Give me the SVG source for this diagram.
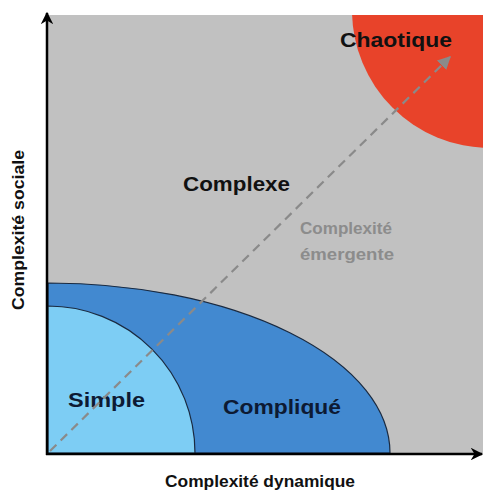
<svg xmlns="http://www.w3.org/2000/svg" width="483" height="490" viewBox="0 0 483 490">
<defs>
<marker id="ah" viewBox="0 0 10 10" refX="9" refY="5" markerWidth="5" markerHeight="5" orient="auto"><path d="M0,0 L10,5 L0,10 L3,5 z" fill="#000"/></marker>
<marker id="ahg" viewBox="0 0 10 10" refX="9" refY="5" markerWidth="6" markerHeight="6" orient="auto"><path d="M0,0 L10,5 L0,10 z" fill="#8a8a8a"/></marker>
<clipPath id="plot"><rect x="48" y="15" width="435" height="439"/></clipPath>
</defs>
<style>
.lbl{font-family:"Liberation Sans",Arial,sans-serif;font-weight:bold;fill:#111}
.dark{fill:#0d1a33}
.grey{font-family:"Liberation Sans",Arial,sans-serif;font-weight:bold;fill:#8c8c8c;font-size:16.5px}
.edge{stroke:#1a2a40;stroke-width:1.2}
</style>
<rect width="483" height="490" fill="#fff"/>
<g id="plot-area">
<rect x="48" y="15" width="435" height="439" fill="#c1c1c1"/>
</g>
<g clip-path="url(#plot)">
<g id="chaotique">
<circle cx="490" cy="10" r="138" fill="#e8432a"/>
<text class="lbl" x="340" y="47" font-size="20" textLength="112" lengthAdjust="spacingAndGlyphs">Chaotique</text>
</g>
<g id="complique">
<path d="M48,283 A342,170 0 0 1 390,453 L48,453 Z" fill="#4289d0" class="edge"/>
<text class="lbl dark" x="223" y="414" font-size="20" textLength="118" lengthAdjust="spacingAndGlyphs">Compliqué</text>
</g>
<g id="simple">
<path d="M48,306 A147,147 0 0 1 195,453 L48,453 Z" fill="#7dcdf4" class="edge"/>
<text class="lbl dark" x="68" y="407" font-size="20" textLength="77" lengthAdjust="spacingAndGlyphs">Simple</text>
</g>
</g>
<g id="complexe">
<text class="lbl" x="183" y="191" font-size="20" textLength="107" lengthAdjust="spacingAndGlyphs">Complexe</text>
</g>
<g id="emergente">
<text class="grey" x="300" y="234" textLength="92" lengthAdjust="spacingAndGlyphs">Complexité</text>
<text class="grey" x="300" y="260" textLength="94" lengthAdjust="spacingAndGlyphs">émergente</text>
</g>
<g id="connectors">
<line x1="50" y1="451" x2="450" y2="57" stroke="#8a8a8a" stroke-width="2.2" stroke-dasharray="9,6" marker-end="url(#ahg)"/>
<line x1="47" y1="455" x2="47" y2="13" stroke="#000" stroke-width="2.5" marker-end="url(#ah)"/>
<line x1="46" y1="454" x2="482" y2="454" stroke="#000" stroke-width="2.5" marker-end="url(#ah)"/>
</g>
<g id="axis-labels">
<text class="lbl" x="165" y="487" font-size="16" textLength="190" lengthAdjust="spacingAndGlyphs">Complexité dynamique</text>
<text class="lbl" transform="translate(24,310) rotate(-90)" font-size="16" textLength="160" lengthAdjust="spacingAndGlyphs">Complexité sociale</text>
</g>
</svg>
